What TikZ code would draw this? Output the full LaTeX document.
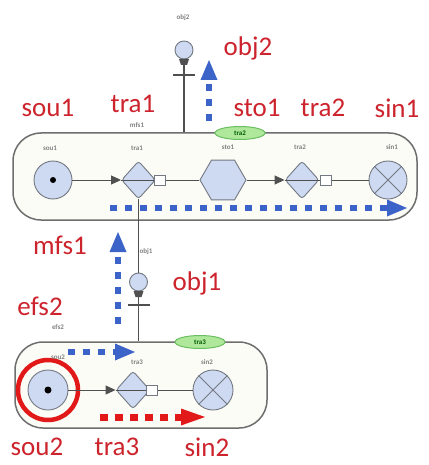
\documentclass[tikz,border=0pt]{standalone}
\usepackage{fontspec}
\setmainfont{Carlito}
\usetikzlibrary{shapes.geometric,arrows.meta}
\definecolor{fnfill}{RGB}{205,218,242}
\definecolor{fnline}{RGB}{115,120,130}
\definecolor{connline}{RGB}{80,80,80}
\definecolor{boxline}{RGB}{110,110,110}
\definecolor{boxfill}{RGB}{252,252,246}
\definecolor{labred}{RGB}{205,35,45}
\definecolor{arrred}{RGB}{225,25,25}
\definecolor{dashblue}{RGB}{60,100,200}
\definecolor{tagfill}{RGB}{175,232,155}
\definecolor{tagline}{RGB}{105,190,95}
\begin{document}
\begin{tikzpicture}[x=1pt,y=-1pt,
  fsbox/.style={draw=boxline,fill=boxfill,line width=1.5pt,rounded corners=28pt,inner sep=0},
  fn/.style={draw=fnline,fill=fnfill,line width=0.9pt,inner sep=0},
  srcfn/.style={fn,circle,minimum size=38pt},
  sinfn/.style={fn,circle,minimum size=38pt},
  trafn/.style={fn,diamond,minimum width=34pt,minimum height=38pt,rounded corners=3pt},
  stofn/.style={fn,regular polygon,regular polygon sides=6,minimum size=46pt},
  objfn/.style={fn,circle,minimum size=18pt},
  port/.style={draw=fnline,fill=white,line width=0.9pt,minimum width=11pt,minimum height=10pt,inner sep=0},
  flow/.style={draw=connline,line width=1pt},
  tip/.style={-{Triangle[length=10pt,width=9pt]}},
  bluedash/.style={draw=dashblue,line width=6pt,dash pattern=on 7pt off 8pt,
    -{Triangle[length=20pt,width=17pt,line width=0pt]}},
  reddash/.style={draw=arrred,line width=7pt,dash pattern=on 8pt off 7pt,
    -{Triangle[length=24pt,width=17pt,line width=0pt]}},
  redlab/.style={text=labred,font=\fontsize{27}{30}\selectfont,inner sep=0},
  tinylab/.style={text=gray,font=\fontsize{7}{8}\selectfont\bfseries,inner sep=0},
  tag/.style={draw=tagline,fill=tagfill,line width=1pt,ellipse,minimum width=50pt,minimum height=13pt,
    inner sep=0,text=green!35!black,font=\fontsize{7}{8}\selectfont\bfseries},
]
\useasboundingbox (0,0) rectangle (428,465);

% flow structure boxes
\node[fsbox,minimum width=404pt,minimum height=87pt] (mfs) at (215,176.5) {};
\node[fsbox,minimum width=252pt,minimum height=86pt] (efs) at (141,385) {};

% upper flow structure
\node[srcfn] (sou1) at (53,180) {};
\fill (sou1) circle (3pt);
\node[trafn] (tra1) at (138.5,180) {};
\node[port] (p1) at (160,180) {};
\node[stofn] (sto1) at (223,180) {};
\node[trafn] (tra2) at (302,180) {};
\node[port] (p2) at (326,180) {};
\node[sinfn] (sin1) at (388,180) {};
\draw[fnline,line width=0.9pt] (sin1.north east) -- (sin1.south west) (sin1.north west) -- (sin1.south east);

\draw[flow,tip] (sou1) -- (tra1);
\draw[flow] (tra1.west) -- (p1.west);
\draw[flow] (p1) -- (sto1);
\draw[flow,tip] (sto1) -- (tra2);
\draw[flow] (tra2.west) -- (p2.west);
\draw[flow] (p2) -- (sin1);

% lower flow structure
\node[srcfn,minimum size=40pt] (sou2) at (48,390) {};
\fill (sou2) circle (3.5pt);
\draw[arrred,line width=4.5pt] (sou2) circle (30pt);
\node[trafn] (tra3) at (133,390) {};
\node[port] (p3) at (152,390) {};
\node[sinfn,minimum size=40pt] (sin2) at (213,390) {};
\draw[fnline,line width=0.9pt] (sin2.north east) -- (sin2.south west) (sin2.north west) -- (sin2.south east);

\draw[flow,tip] (sou2.east) -- (tra3);
\draw[flow] (tra3.west) -- (p3.west);
\draw[flow] (p3) -- (sin2);

% objects and their links
\node[objfn] (obj2) at (184,50) {};
\draw[flow,line width=1.6pt] (obj2) -- (obj2 |- mfs.north);
\fill[connline] (179,59) -- (189,59) -- (187,65) -- (181,65) -- cycle;
\draw[connline,line width=2pt] (173,75) -- (195,75);

\node[objfn] (obj1) at (138.5,282) {};
\draw[flow,line width=1.6pt] (tra1.south) -- (obj1);
\draw[flow,line width=1.6pt] (obj1) -- (obj1 |- efs.north);
\fill[connline] (133.5,291) -- (143.5,291) -- (141.5,297) -- (135.5,297) -- cycle;
\draw[connline,line width=2pt] (128,305) -- (150,305);

% tags on the box edges
\node[tag] (tagm) at (240,133) {tra2};
\node[tag] (tage) at (200,342) {tra3};

% flow direction arrows
\coordinate (a1s) at (209,121); \coordinate (a1e) at (209,60);
\draw[bluedash] (a1s) -- (a1e);
\coordinate (a2s) at (110,208); \coordinate (a2e) at (407,208);
\draw[bluedash] (a2s) -- (a2e);
\coordinate (a3s) at (118,324); \coordinate (a3e) at (118,232);
\draw[bluedash] (a3s) -- (a3e);
\coordinate (a4s) at (68,352); \coordinate (a4e) at (135,352);
\draw[bluedash] (a4s) -- (a4e);
\coordinate (a5s) at (100,417); \coordinate (a5e) at (205,417);
\draw[reddash] (a5s) -- (a5e);

% small element names
\node[tinylab] (n1) at (183,18) {obj2};
\node[tinylab] (n2) at (146,252) {obj1};
\node[tinylab] (n3) at (137,125) {mfs1};
\node[tinylab] (n4) at (58,327) {efs2};
\node[tinylab] (n5) at (50,148) {sou1};
\node[tinylab] (n6) at (137,148) {tra1};
\node[tinylab] (n7) at (228,147) {sto1};
\node[tinylab] (n8) at (300,147) {tra2};
\node[tinylab] (n9) at (392,147) {sin1};
\node[tinylab] (n10) at (58,357) {sou2};
\node[tinylab] (n11) at (137,362) {tra3};
\node[tinylab] (n12) at (207,362) {sin2};

% annotation labels
\node[redlab] (l1) at (248,48) {obj2};
\node[redlab] (l2) at (48,108) {sou1};
\node[redlab] (l3) at (133,104) {tra1};
\node[redlab] (l4) at (257,108) {sto1};
\node[redlab] (l5) at (323,108) {tra2};
\node[redlab] (l6) at (397,108) {sin1};
\node[redlab] (l7) at (60,245) {mfs1};
\node[redlab] (l8) at (197,283) {obj1};
\node[redlab] (l9) at (40,306) {efs2};
\node[redlab] (l10) at (37,447) {sou2};
\node[redlab] (l11) at (117,447) {tra3};
\node[redlab] (l12) at (207,447) {sin2};
\end{tikzpicture}
\end{document}
